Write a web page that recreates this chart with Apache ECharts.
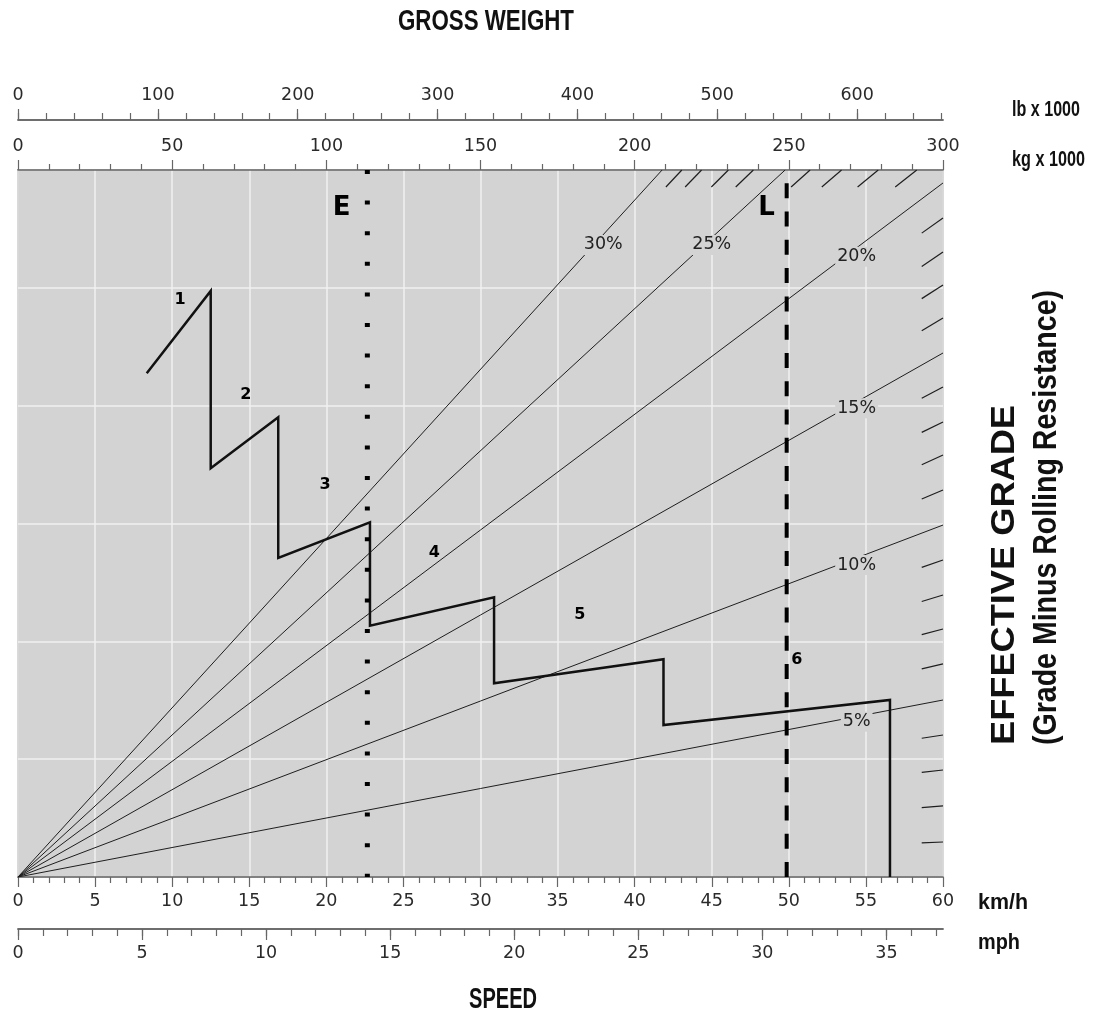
<!DOCTYPE html>
<html>
<head>
<meta charset="utf-8">
<script src="https://cdn.jsdelivr.net/npm/echarts@6/dist/echarts.min.js"></script>
<style>
html,body{margin:0;padding:0;background:#fff;}
#chart{width:1112px;height:1012px;}
</style>
</head>
<body>
<div id="chart"></div>
<script>
// ---- axis ranges & tick values ----
const speedMax = 60;          // km/h
const mphMax = 37.28;         // 60 km/h in mph
const kgMax = 300;            // kg x 1000
const lbMax = 661.4;          // 300 t in lb x 1000
const forceMax = 60;          // hidden vertical scale
const mphMajorTicks = [0, 5, 10, 15, 20, 25, 30, 35];
const mphMinorTicks = [0,1,2,3,4,5,6,7,8,9,10,11,12,13,14,15,16,17,18,19,20,21,22,23,24,25,26,27,28,29,30,31,32,33,34,35,36,37];
const lbMajorTicks = [0, 100, 200, 300, 400, 500, 600];
const lbMinorTicks = [0,20,40,60,80,100,120,140,160,180,200,220,240,260,280,300,320,340,360,380,400,420,440,460,480,500,520,540,560,580,600,620,640,660];

// ---- grade lines (gross weight kg x 1000 vs. hidden force scale) ----
const gradeNames = ['5%', '10%', '15%', '20%', '25%', '30%'];
const gradeEndKg = [300, 300, 300, 300, 248.8, 208.9];
const gradeEndY = [15.02, 29.87, 44.47, 58.9, 60, 60];
const gradeLabelKg = [272.0, 272.0, 272.0, 272.0, 225.0, 189.8];
const gradeLabelY = [13.18, 26.48, 39.78, 52.64, 53.64, 53.64];

// intermediate 1% marks on right edge (at 300) and top edge (at 60)
const edgeMarkY = [2.97, 6.03, 9.08, 12.05, 18.08, 21.05, 23.93, 26.90, 32.84, 35.81, 38.62, 41.59, 47.44, 50.24, 53.04, 55.93];
const topMarkKg = [291.5, 279.0, 267.1, 256.9, 238.5, 230.4, 221.7, 215.3];

// ---- rimpull (gear) curve: speed km/h vs force ----
const gearSpeed = [8.35, 12.5, 12.5, 16.88, 16.88, 22.83, 22.83, 30.88, 30.88, 41.87, 41.87, 56.56, 56.56];
const gearForce = [42.75, 49.73, 34.69, 39.01, 27.07, 30.10, 21.33, 23.74, 16.44, 18.48, 12.90, 15.02, 0];
const gearNames = ['1', '2', '3', '4', '5', '6'];
const gearLabelSpeed = [10.51, 14.77, 19.91, 27.0, 36.45, 50.51];
const gearLabelY = [48.97, 40.9, 33.27, 27.47, 22.24, 18.42];

// ---- reference speeds ----
const eSpeed = 22.66;
const lSpeed = 49.86;
const refNames = ['E', 'L'];
const refLabelSpeed = [21.0, 48.56];
const refLabelY = [56.75, 56.75];

const chart = echarts.init(document.getElementById('chart'), null, {renderer: 'canvas'});

const axisCol = '#666';
const txtCol = '#2a2a2a';
const lblFont = 'DejaVu Sans';
const lblSize = 17.5;
const condFont = "'Liberation Sans', Arial, sans-serif";

// condensed bold text helper: squeeze a bold face to the measured width
const mctx = document.createElement('canvas').getContext('2d');
function condText(text, x, y, size, width, align, rotate) {
  const font = 'bold ' + size + 'px ' + condFont;
  mctx.font = font;
  const w = mctx.measureText(text).width;
  return {
    type: 'text', x: x, y: y, rotation: rotate ? Math.PI / 2 : 0,
    scaleX: width / w, scaleY: 1,
    style: {text: text, fill: '#111', font: font, align: align, verticalAlign: 'middle'}
  };
}

function baseX(extra) {
  return Object.assign({
    type: 'value',
    gridIndex: 0,
    axisLine: {show: true, onZero: false, lineStyle: {color: axisCol, width: 1.5}},
    axisTick: {show: true, length: 10, lineStyle: {color: axisCol, width: 1.2}},
    axisLabel: {show: true, color: txtCol, fontFamily: lblFont, fontSize: lblSize, margin: 14},
    splitLine: {show: false}
  }, extra);
}

const gradeLineData = gradeNames.map((n, i) => ({coords: [[0, 0], [gradeEndKg[i], gradeEndY[i]]]}));
const markData = [];
edgeMarkY.forEach(v => markData.push({coords: [[kgMax * 0.977, v * 0.977], [kgMax, v]]}));
topMarkKg.forEach(v => markData.push({coords: [[v * 0.976, forceMax * 0.976], [v, forceMax]]}));

const option = {
  backgroundColor: '#ffffff',
  animation: false,
  grid: {
    left: 18, top: 170, right: 169, bottom: 135,
    show: true, backgroundColor: '#d3d3d3', borderColor: '#777', borderWidth: 1.5
  },
  xAxis: [
    // 0: speed km/h
    baseX({
      position: 'bottom', min: 0, max: speedMax, interval: 5,
      minorTick: {show: true, splitNumber: 5, length: 6, lineStyle: {color: axisCol, width: 1.2}},
      axisLabel: {show: true, color: txtCol, fontFamily: lblFont, fontSize: lblSize, margin: 15},
      splitLine: {show: true, lineStyle: {color: '#f0f0f0', width: 1.5}}
    }),
    // 1: mph minor ticks
    baseX({
      position: 'bottom', offset: 52, min: 0, max: mphMax,
      axisTick: {show: true, length: 7, customValues: mphMinorTicks, lineStyle: {color: axisCol, width: 1.2}},
      axisLabel: {show: false}
    }),
    // 2: mph major ticks + labels
    baseX({
      position: 'bottom', offset: 52, min: 0, max: mphMax,
      axisTick: {show: true, length: 11, customValues: mphMajorTicks, lineStyle: {color: axisCol, width: 1.2}},
      axisLabel: {show: true, color: txtCol, fontFamily: lblFont, fontSize: lblSize, margin: 15, customValues: mphMajorTicks}
    }),
    // 3: kg x 1000 (top)
    baseX({
      position: 'top', min: 0, max: kgMax, interval: 50,
      minorTick: {show: true, splitNumber: 5, length: 6, lineStyle: {color: axisCol, width: 1.2}},
      axisTick: {show: true, length: 10, lineStyle: {color: axisCol, width: 1.2}},
      axisLabel: {show: true, color: txtCol, fontFamily: lblFont, fontSize: lblSize, margin: 15}
    }),
    // 4: lb minor ticks (top)
    baseX({
      position: 'top', offset: 50, min: 0, max: lbMax,
      axisTick: {show: true, length: 7, customValues: lbMinorTicks, lineStyle: {color: axisCol, width: 1.2}},
      axisLabel: {show: false}
    }),
    // 5: lb major ticks + labels (top)
    baseX({
      position: 'top', offset: 50, min: 0, max: lbMax,
      axisTick: {show: true, length: 11, customValues: lbMajorTicks, lineStyle: {color: axisCol, width: 1.2}},
      axisLabel: {show: true, color: txtCol, fontFamily: lblFont, fontSize: lblSize, margin: 16, customValues: lbMajorTicks}
    })
  ],
  yAxis: [{
    type: 'value', min: 0, max: forceMax, interval: 10,
    axisLine: {show: false}, axisTick: {show: false}, axisLabel: {show: false},
    splitLine: {show: true, lineStyle: {color: '#f0f0f0', width: 1.5}}
  }],
  series: [
    {
      type: 'lines', coordinateSystem: 'cartesian2d', xAxisIndex: 3, yAxisIndex: 0,
      z: 3, silent: true,
      lineStyle: {color: '#1e1e1e', width: 1, opacity: 1},
      data: gradeLineData
    },
    {
      type: 'lines', coordinateSystem: 'cartesian2d', xAxisIndex: 3, yAxisIndex: 0,
      z: 3, silent: true,
      lineStyle: {color: '#1e1e1e', width: 1.2, opacity: 1},
      data: markData
    },
    {
      type: 'scatter', xAxisIndex: 3, yAxisIndex: 0, z: 4, symbolSize: 0, silent: true,
      itemStyle: {opacity: 1},
      label: {
        show: true, position: 'inside', formatter: p => p.name,
        color: '#222', fontFamily: lblFont, fontSize: lblSize,
        backgroundColor: '#d3d3d3', padding: [1, 2]
      },
      data: gradeNames.map((n, i) => ({name: n, value: [gradeLabelKg[i], gradeLabelY[i]]}))
    },
    {
      type: 'line', xAxisIndex: 0, yAxisIndex: 0, z: 6, symbol: 'none', silent: true,
      lineStyle: {color: '#111', width: 2.5, join: 'miter'},
      data: gearSpeed.map((s, i) => [s, gearForce[i]])
    },
    {
      type: 'scatter', xAxisIndex: 0, yAxisIndex: 0, z: 7, symbolSize: 0, silent: true,
      itemStyle: {opacity: 1},
      label: {
        show: true, position: 'inside', formatter: p => p.name,
        color: '#000', fontFamily: lblFont, fontWeight: 'bold', fontSize: 16
      },
      data: gearNames.map((n, i) => ({name: n, value: [gearLabelSpeed[i], gearLabelY[i]]}))
    },
    {
      type: 'line', xAxisIndex: 0, yAxisIndex: 0, z: 8, symbol: 'none', silent: true,
      lineStyle: {color: '#000', width: 5, type: [4, 26.6], cap: 'butt'},
      data: [[eSpeed, forceMax], [eSpeed, 0]]
    },
    {
      type: 'line', xAxisIndex: 0, yAxisIndex: 0, z: 8, symbol: 'none', silent: true,
      lineStyle: {color: '#000', width: 4, type: [15, 13.28], cap: 'butt'},
      data: [[lSpeed, 0], [lSpeed, forceMax]]
    },
    {
      type: 'scatter', xAxisIndex: 0, yAxisIndex: 0, z: 8, symbolSize: 0, silent: true,
      itemStyle: {opacity: 1},
      label: {
        show: true, position: 'inside', formatter: p => p.name,
        color: '#000', fontFamily: lblFont, fontWeight: 'bold', fontSize: 26
      },
      data: refNames.map((n, i) => ({name: n, value: [refLabelSpeed[i], refLabelY[i]]}))
    }
  ],
  graphic: [
    condText('GROSS WEIGHT', 486, 22, 29, 176, 'center', false),
    condText('SPEED', 503, 1000, 29, 68, 'center', false),
    condText('lb x 1000', 1012, 110, 22, 68, 'left', false),
    condText('kg x 1000', 1012, 160, 22, 73, 'left', false),
    condText('km/h', 978, 903, 22, 50, 'left', false),
    condText('mph', 978, 943, 22, 42, 'left', false),
    condText('EFFECTIVE GRADE', 1005, 745, 33, 340, 'left', true),
    condText('(Grade Minus Rolling Resistance)', 1047, 745, 33, 455, 'left', true)
  ]
};

chart.setOption(option);
</script>
</body>
</html>
